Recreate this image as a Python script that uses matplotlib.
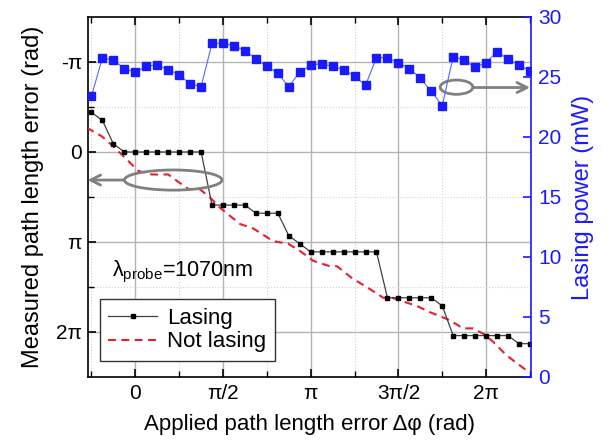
import matplotlib
matplotlib.use('Agg')
import matplotlib.pyplot as plt
import numpy as np
from matplotlib.patches import Ellipse

plt.rcParams['font.family'] = ['Liberation Sans', 'DejaVu Sans']
plt.rcParams['mathtext.fontset'] = 'custom'
plt.rcParams['mathtext.rm'] = 'Liberation Sans'
plt.rcParams['mathtext.it'] = 'Liberation Sans:italic'

# applied path length error, in steps of pi/16
applied_step = np.arange(-4, 37)

# measured path length error while lasing (units of pi)
lasing_error = [-0.44, -0.35, -0.09, 0.0,
                0.0, 0.0, 0.0, 0.0, 0.0, 0.0, 0.0,
                0.59, 0.59, 0.59, 0.59,
                0.68, 0.68, 0.68,
                0.93, 1.02,
                1.11, 1.11, 1.11, 1.11, 1.11, 1.11, 1.11,
                1.62, 1.62, 1.62, 1.62, 1.62,
                1.71,
                2.04, 2.04, 2.04, 2.04, 2.04, 2.04,
                2.13, 2.13]

# lasing power (mW)
lasing_power = [23.4, 26.6, 26.4, 25.7, 25.4, 25.9, 26.0, 25.6, 25.2, 24.4,
                24.2, 27.8, 27.8, 27.6, 27.2, 26.5, 25.9, 25.3, 24.2, 25.4,
                26.0, 26.1, 25.9, 25.6, 25.1, 24.3, 26.6, 26.6, 26.2, 25.7,
                24.9, 23.8, 22.6, 26.7, 26.4, 25.8, 26.2, 27.1, 26.5, 26.0,
                25.5]

# not lasing trace (both in units of pi)
not_lasing_x = [-0.277, -0.192, -0.125, -0.059, 0.017, 0.094, 0.188, 0.236,
                0.302, 0.369, 0.436, 0.483, 0.597, 0.673, 0.785, 0.872,
                0.939, 1.015, 1.110, 1.150, 1.241, 1.319, 1.414, 1.464,
                1.604, 1.680, 1.794, 1.868, 1.925, 1.984, 2.041, 2.117, 2.246]
not_lasing_error = [-0.27, -0.175, -0.06, 0.064, 0.21, 0.25, 0.25, 0.32,
                    0.41, 0.415, 0.525, 0.62, 0.80, 0.85, 0.99, 1.02,
                    1.10, 1.21, 1.27, 1.27, 1.41, 1.50, 1.62, 1.62,
                    1.71, 1.78, 1.87, 1.96, 1.96, 2.02, 2.11, 2.26, 2.45]

x_lasing = applied_step * np.pi / 16
y_lasing = np.array(lasing_error) * np.pi
x_not = np.array(not_lasing_x) * np.pi
y_not = np.array(not_lasing_error) * np.pi

blue = '#1a1aff'

fig = plt.figure(figsize=(6.07, 4.42), dpi=100)
ax = fig.add_axes([0.1442, 0.1471, 0.7306, 0.8145])

ax.plot(x_lasing, y_lasing, color='#404040', lw=0.9, marker='s', ms=3.5,
        mfc='black', mec='black', label='Lasing', zorder=4)
ax.plot(x_not, y_not, color='#e8202a', lw=1.5, dashes=(3.8, 2.6),
        label='Not lasing', zorder=3)

ax.set_xlim(-0.856, 7.088)
ax.set_ylim(2.5 * np.pi, -1.5 * np.pi)
ax.set_xticks([0, np.pi / 2, np.pi, 1.5 * np.pi, 2 * np.pi])
ax.set_xticklabels(['0', 'π/2', 'π', '3π/2', '2π'])
ax.set_xticks(np.pi / 4 * np.array([-1, 1, 3, 5, 7, 9]), minor=True)
ax.set_yticks([-np.pi, 0, np.pi, 2 * np.pi])
ax.set_yticklabels(['-π', '0', 'π', '2π'])
ax.set_yticks([-np.pi / 2, np.pi / 2, 1.5 * np.pi], minor=True)

ax.grid(True, which='major', color='#b4b4b4', lw=1.0, ls='-', zorder=0)
ax.grid(True, which='minor', color='#d0d0d0', lw=0.8, ls=':', zorder=0)
ax.set_axisbelow(True)

ax.tick_params(which='both', direction='in', top=True, right=False,
               labelsize=15, pad=5)
ax.tick_params(axis='y', pad=4)
ax.tick_params(which='major', length=6, width=1.2)
ax.tick_params(which='minor', length=4, width=1.0)
for s in ax.spines.values():
    s.set_linewidth(1.2)
ax.spines['right'].set_visible(False)

ax.set_xlabel('Applied path length error Δφ (rad)', fontsize=16, labelpad=8)
ax.set_ylabel('Measured path length error (rad)', fontsize=17, labelpad=9)

ax2 = ax.twinx()
ax2.plot(x_lasing, lasing_power, color='#5566ff', lw=0.8, marker='s', ms=5.5,
         mfc=blue, mec=blue, zorder=4)
ax2.set_ylim(0, 30)
ax2.set_yticks([0, 5, 10, 15, 20, 25, 30])
ax2.tick_params(axis='y', direction='in', colors=blue, labelsize=15,
                length=6, width=1.2, pad=5)
ax2.spines['right'].set_color(blue)
ax2.spines['right'].set_linewidth(1.2)
for side in ['left', 'top', 'bottom']:
    ax2.spines[side].set_visible(False)
ax2.set_ylabel('Lasing power (mW)', fontsize=17, color=blue, labelpad=8)

# annotation ellipses and arrows
gray = '#808080'
ax.add_patch(Ellipse((0.193, 0.547), 0.220, 0.056, transform=ax.transAxes,
                     fill=False, ec=gray, lw=2, zorder=5))
ax.annotate('', xy=(0.0, 0.547), xytext=(0.083, 0.547), xycoords='axes fraction',
            arrowprops=dict(arrowstyle='->', color=gray, lw=2,
                            mutation_scale=18, shrinkA=0, shrinkB=0), zorder=5)
ax.add_patch(Ellipse((0.832, 0.805), 0.0737, 0.0397, transform=ax.transAxes,
                     fill=False, ec=gray, lw=2, zorder=5))
ax.annotate('', xy=(0.998, 0.804), xytext=(0.869, 0.804), xycoords='axes fraction',
            arrowprops=dict(arrowstyle='->', color=gray, lw=2,
                            mutation_scale=18, shrinkA=0, shrinkB=0), zorder=5)

ax.text(0.055, 0.28, 'λ$_{\\mathrm{probe}}$=1070nm', transform=ax.transAxes,
        fontsize=15.5, va='baseline', ha='left')

leg = ax.legend(loc='upper left', bbox_to_anchor=(0.027, 0.217), fontsize=16,
                frameon=True, fancybox=False, framealpha=1, edgecolor='#333333',
                handlelength=2.2, handletextpad=0.45, borderpad=0.4,
                labelspacing=0.12, borderaxespad=0)
leg.get_frame().set_linewidth(1.0)
leg.set_zorder(6)

fig.savefig('out.png', dpi=100)
